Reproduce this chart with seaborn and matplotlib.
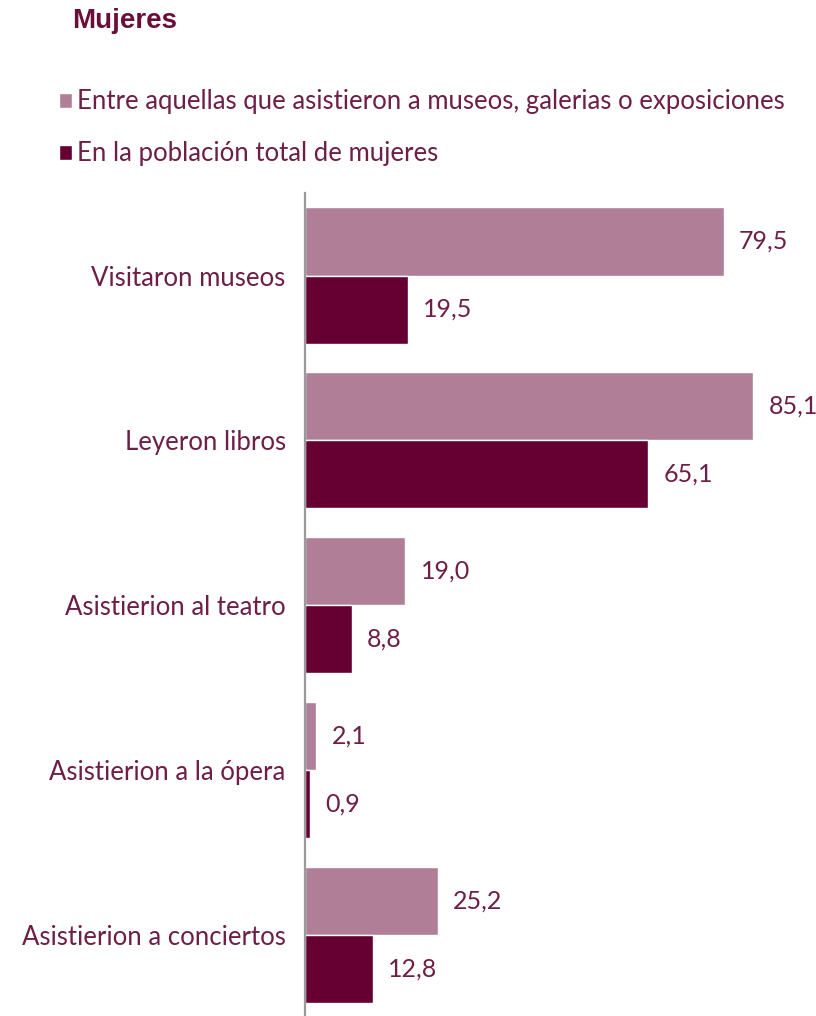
import pandas as pd
import matplotlib
matplotlib.use("Agg")
from matplotlib import pyplot as plt
from matplotlib.patches import Patch
import seaborn as sns

categorias = ["Visitaron museos", "Leyeron libros", "Asistierion al teatro",
              "Asistierion a la ópera", "Asistierion a conciertos"]
serie_asistentes = [79.5, 85.1, 19.0, 2.1, 25.2]
serie_total = [19.5, 65.1, 8.8, 0.9, 12.8]
nombres_series = ["Entre aquellas que asistieron a museos, galerias o exposiciones",
                  "En la población total de mujeres"]

df = pd.DataFrame({
    "categoria": categorias * 2,
    "valor": serie_asistentes + serie_total,
    "serie": [nombres_series[0]] * 5 + [nombres_series[1]] * 5,
})

sns.set_theme(style="white")
plt.rcParams["font.family"] = ["Lato", "DejaVu Sans"]

claro = "#B07F97"
oscuro = "#660033"
texto = "#6E1F47"
fs = 18.5

fig = plt.figure(figsize=(8.16, 10.16), dpi=100)
ax = fig.add_axes([0.374, 0.0, 0.626, 0.81])

sns.barplot(data=df, y="categoria", x="valor", hue="serie", orient="h",
            palette=[claro, oscuro], width=0.825, order=categorias,
            hue_order=nombres_series, ax=ax, legend=False, saturation=1)

ax.set_xlim(0, 97)
ax.set_ylim(4.49, -0.5)
ax.set_xlabel("")
ax.set_ylabel("")
ax.set_xticks([])
for s in ["top", "right", "bottom"]:
    ax.spines[s].set_visible(False)
ax.spines["left"].set_color("#9a9a9a")
ax.spines["left"].set_linewidth(1.6)
ax.tick_params(axis="y", length=0, pad=14, labelsize=fs, labelcolor=texto)

for cont in ax.containers:
    for bar, v in zip(cont, cont.datavalues):
        ax.text(bar.get_width() + 2.9, bar.get_y() + bar.get_height() / 2,
                f"{v:.1f}".replace(".", ","), va="center", ha="left",
                fontsize=18, color=texto)

fig.text(0.088, 0.979, "Mujeres", fontsize=20, fontweight="bold",
         family=["Liberation Sans", "DejaVu Sans"],
         color="#6B0F3A", va="center", ha="left")

handles = [Patch(facecolor=claro), Patch(facecolor=oscuro)]
fig.legend(handles, nombres_series, loc="upper left", bbox_to_anchor=(0.072, 0.912),
           frameon=False, fontsize=fs, labelcolor=texto, handlelength=0.5,
           handleheight=0.5, handletextpad=0.2, labelspacing=1.05,
           borderaxespad=0, borderpad=0)

fig.savefig("out.png", dpi=100)
